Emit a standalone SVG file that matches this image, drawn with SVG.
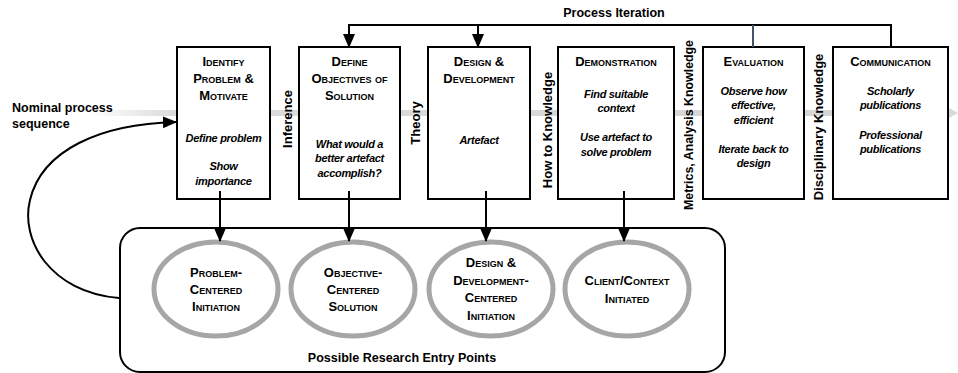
<svg xmlns="http://www.w3.org/2000/svg" width="958" height="373" viewBox="0 0 958 373">
<style>
.box{fill:#fff;stroke:#000;stroke-width:2}
.ell{fill:#fff;stroke:#a6a6a6;stroke-width:5}
.ttl{font-family:"Liberation Sans",Arial,sans-serif;font-weight:bold;font-variant:small-caps;font-size:13px;text-anchor:middle;fill:#000}
.it{font-family:"Liberation Sans",Arial,sans-serif;font-weight:bold;font-style:italic;font-size:11px;text-anchor:middle;fill:#000;letter-spacing:-0.3px}
.lab{font-family:"Liberation Sans",Arial,sans-serif;font-weight:bold;font-size:12.5px;fill:#000}
.vlab{font-family:"Liberation Sans",Arial,sans-serif;font-weight:bold;font-size:13px;text-anchor:middle;fill:#000}
.con{fill:none;stroke:#000;stroke-width:2}
</style>
<defs>
<marker id="ah2" markerWidth="14" markerHeight="14" refX="13" refY="7" orient="auto" markerUnits="userSpaceOnUse" viewBox="0 0 14 14">
<path d="M0,1 L14,7 L0,13 Z" fill="#000"/>
</marker>
<linearGradient id="fade" x1="0" y1="0" x2="1" y2="0">
<stop offset="0" stop-color="#d8d8d8" stop-opacity="0"/>
<stop offset="0.1" stop-color="#d8d8d8" stop-opacity="0.9"/>
<stop offset="1" stop-color="#d0d0d0" stop-opacity="0.9"/>
</linearGradient>
</defs>
<rect width="958" height="373" fill="#fff"/>

<g id="nominal-sequence">
<rect x="88" y="110" width="858" height="6" fill="url(#fade)"/>
<path d="M944,105 L958,113 L944,121 Z" fill="#d0d0d0" opacity="0.8"/>
<text class="lab" x="12" y="112" font-size="13.5">Nominal process</text>
<text class="lab" x="12" y="128" font-size="13.5">sequence</text>
</g>

<g id="process-iteration-label">
<text class="lab" x="614" y="17" text-anchor="middle">Process Iteration</text>
</g>

<g id="entry-points">
<rect x="120" y="228" width="605" height="144" rx="20" ry="20" fill="#fff" stroke="#000" stroke-width="2"/>
<text class="lab" x="402" y="362" text-anchor="middle">Possible Research Entry Points</text>
</g>

<g id="node-identify">
<rect class="box" x="177" y="47" width="93" height="152"/>
<text class="ttl" x="223.5" y="66">Identify</text>
<text class="ttl" x="223.5" y="83">Problem &amp;</text>
<text class="ttl" x="223.5" y="100">Motivate</text>
<text class="it" x="223.5" y="142">Define problem</text>
<text class="it" x="223.5" y="170">Show</text>
<text class="it" x="223.5" y="185">importance</text>
</g>

<g id="node-objectives">
<rect class="box" x="299" y="47" width="101" height="152"/>
<text class="ttl" x="349.5" y="66">Define</text>
<text class="ttl" x="349.5" y="83">Objectives of</text>
<text class="ttl" x="349.5" y="100">Solution</text>
<text class="it" x="349.5" y="148">What would a</text>
<text class="it" x="349.5" y="162">better artefact</text>
<text class="it" x="349.5" y="177">accomplish?</text>
</g>

<g id="node-design">
<rect class="box" x="428" y="47" width="102" height="152"/>
<text class="ttl" x="479" y="66">Design &amp;</text>
<text class="ttl" x="479" y="83">Development</text>
<text class="it" x="479" y="144">Artefact</text>
</g>

<g id="node-demonstration">
<rect class="box" x="558" y="47" width="116" height="152"/>
<text class="ttl" x="616" y="66">Demonstration</text>
<text class="it" x="616" y="98">Find suitable</text>
<text class="it" x="616" y="112">context</text>
<text class="it" x="616" y="141">Use artefact to</text>
<text class="it" x="616" y="156">solve problem</text>
</g>

<g id="node-evaluation">
<rect class="box" x="703" y="47" width="101" height="152"/>
<text class="ttl" x="753.5" y="66">Evaluation</text>
<text class="it" x="753.5" y="95">Observe how</text>
<text class="it" x="753.5" y="109">effective,</text>
<text class="it" x="753.5" y="124">efficient</text>
<text class="it" x="753.5" y="153">Iterate back to</text>
<text class="it" x="753.5" y="167">design</text>
</g>

<g id="node-communication">
<rect class="box" x="833" y="47" width="115" height="152"/>
<text class="ttl" x="890.5" y="66">Communication</text>
<text class="it" x="890.5" y="95">Scholarly</text>
<text class="it" x="890.5" y="109">publications</text>
<text class="it" x="890.5" y="139">Professional</text>
<text class="it" x="890.5" y="153">publications</text>
</g>

<g id="vertical-labels">
<text class="vlab" transform="translate(292,119) rotate(-90)">Inference</text>
<text class="vlab" transform="translate(420,123) rotate(-90)">Theory</text>
<text class="vlab" transform="translate(552,130) rotate(-90)">How to Knowledge</text>
<text class="vlab" transform="translate(693,125) rotate(-90)" textLength="170" lengthAdjust="spacingAndGlyphs">Metrics, Analysis Knowledge</text>
<text class="vlab" transform="translate(823,127) rotate(-90)">Disciplinary Knowledge</text>
</g>

<g id="node-problem-centered">
<ellipse class="ell" cx="216" cy="289" rx="62" ry="47"/>
<text class="ttl" x="216" y="277">Problem-</text>
<text class="ttl" x="216" y="294">Centered</text>
<text class="ttl" x="216" y="311">Initiation</text>
</g>
<g id="node-objective-centered">
<ellipse class="ell" cx="353" cy="289" rx="62" ry="47"/>
<text class="ttl" x="353" y="277">Objective-</text>
<text class="ttl" x="353" y="294">Centered</text>
<text class="ttl" x="353" y="311">Solution</text>
</g>
<g id="node-design-centered">
<ellipse class="ell" cx="491" cy="289" rx="62" ry="47"/>
<text class="ttl" x="491" y="267">Design &amp;</text>
<text class="ttl" x="491" y="285">Development-</text>
<text class="ttl" x="491" y="302">Centered</text>
<text class="ttl" x="491" y="320">Initiation</text>
</g>
<g id="node-client-initiated">
<ellipse class="ell" cx="627" cy="289" rx="62" ry="47"/>
<text class="ttl" x="627" y="285">Client/Context</text>
<text class="ttl" x="627" y="303">Initiated</text>
</g>

<g id="connectors">
<path class="con" d="M349,47 L349,25 L891,25 L891,47"/>
<line x1="349" y1="25" x2="349" y2="47" stroke="#000" stroke-width="2" marker-end="url(#ah2)"/>
<line x1="478" y1="25" x2="478" y2="47" stroke="#000" stroke-width="2" marker-end="url(#ah2)"/>
<line x1="753" y1="25" x2="753" y2="47" stroke="#44546a" stroke-width="2"/>
<line x1="220" y1="191" x2="220" y2="241" stroke="#000" stroke-width="2" marker-end="url(#ah2)"/>
<line x1="349" y1="191" x2="349" y2="241" stroke="#000" stroke-width="2" marker-end="url(#ah2)"/>
<line x1="486" y1="191" x2="486" y2="241" stroke="#000" stroke-width="2" marker-end="url(#ah2)"/>
<line x1="624" y1="191" x2="624" y2="241" stroke="#000" stroke-width="2" marker-end="url(#ah2)"/>
<path class="con" d="M119,298 C50,292 20,240 30,200 C42,150 100,124 176,122" marker-end="url(#ah2)"/>
</g>
</svg>
